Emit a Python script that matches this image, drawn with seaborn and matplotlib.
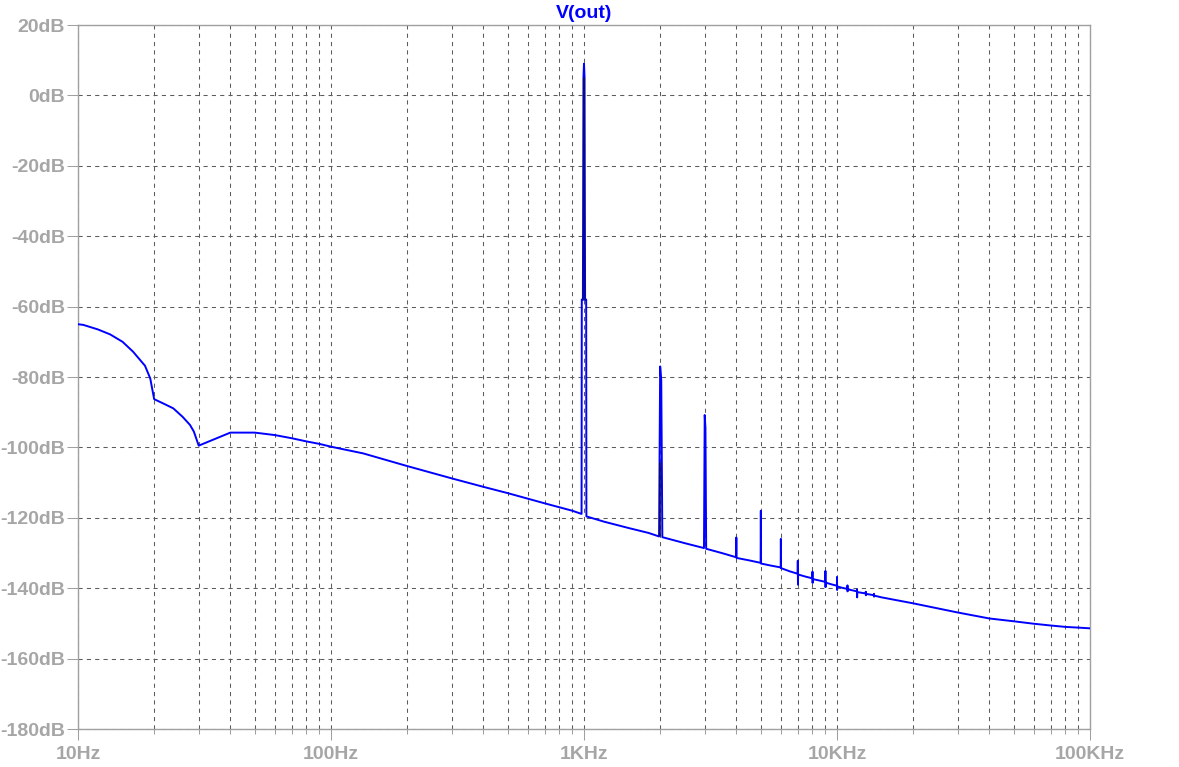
import matplotlib
matplotlib.use("Agg")
import matplotlib.pyplot as plt
import numpy as np
import pandas as pd
import seaborn as sns
from matplotlib.ticker import FixedLocator, FixedFormatter, LogLocator, NullFormatter

# ---------------- data ----------------
freq = [10, 10.5, 12, 13.4, 15, 16.5, 18.4, 19.3, 20, 21.7, 23.8, 25.9, 27.7, 28.7, 30,
        40, 50, 60, 70, 80, 90, 100, 134, 200, 300, 400, 500, 700, 900, 960,
        978, 980, 990, 995, 1000, 1005, 1010, 1020, 1022, 1200, 1500, 1800,
        1980, 2000, 2020, 2040, 2500,
        2980, 3000, 3020, 3040, 3500,
        3990, 4000, 4010, 4500,
        4990, 5000, 5010, 5500,
        5990, 6000, 6010, 6500,
        6990, 7000, 7010, 7020, 7500,
        7990, 8000, 8010, 8020, 8500,
        8990, 9000, 9010, 9020, 9500,
        9990, 10000, 10010, 10020, 10500,
        10990, 11000, 11010, 11020,
        11990, 12000, 12010, 12020,
        12990, 13000, 13010, 13020,
        13990, 14000, 14010, 14020,
        15000, 20000, 30000, 40000, 50000, 60000, 70000, 80000, 90000, 100000]
db = [-65.0, -65.2, -66.5, -67.9, -70.0, -72.8, -76.8, -80.4, -86.3, -87.5, -88.9, -91.3, -93.6, -95.5, -99.5,
      -95.8, -95.8, -96.5, -97.4, -98.3, -99.0, -99.8, -101.7, -105.3, -108.8, -111.2, -113.0, -115.9, -118.0, -118.7,
      -118.9, -58.0, -58.0, 5.0, 9.0, 5.0, -58.0, -58.0, -119.6, -121.1, -122.9, -124.3,
      -125.3, -77.0, -81.0, -125.5, -127.2,
      -128.6, -90.8, -94.5, -128.8, -130.0,
      -131.2, -125.6, -131.4, -132.1,
      -132.8, -118.0, -133.0, -133.6,
      -134.1, -126.0, -134.3, -135.2,
      -135.9, -132.2, -139.0, -136.1, -136.7,
      -137.2, -135.3, -138.5, -137.4, -137.8,
      -138.2, -135.1, -139.7, -138.4, -138.9,
      -139.3, -136.8, -140.5, -139.5, -139.9,
      -140.2, -139.2, -140.9, -140.3,
      -140.9, -140.3, -142.6, -141.1,
      -141.5, -141.0, -142.0, -141.6,
      -142.0, -141.6, -142.4, -142.1,
      -142.6, -144.3, -146.9, -148.6, -149.4, -150.1, -150.6, -151.0, -151.2, -151.4]

# dark overlay segments seen inside the 1 kHz and 2 kHz spikes
dark_freq = [1000, 2000]
dark_low = [-58.0, -125.3]
dark_high = [5.0, -104.5]

xtick_vals = [10, 100, 1000, 10000, 100000]
xtick_labels = ["10Hz", "100Hz", "1KHz", "10KHz", "100KHz"]
ytick_vals = [20, 0, -20, -40, -60, -80, -100, -120, -140, -160, -180]
ytick_labels = ["20dB", "0dB", "-20dB", "-40dB", "-60dB", "-80dB", "-100dB",
                "-120dB", "-140dB", "-160dB", "-180dB"]

# ---------------- styling ----------------
sns.set_style("white")
plt.rcParams["font.family"] = ["Liberation Sans", "DejaVu Sans"]

W, H = 1179, 767
fig = plt.figure(figsize=(W / 100, H / 100), dpi=100)
ax = fig.add_axes([78 / W, 1 - 729 / H, (1090 - 78) / W, (729 - 25) / H])
ax.set_xscale("log")

df = pd.DataFrame({"freq": freq, "db": db})
sns.lineplot(data=df, x="freq", y="db", sort=False, estimator=None,
             color="#0000ff", lw=1.4, ax=ax, zorder=3)
for f, lo, hi in zip(dark_freq, dark_low, dark_high):
    sns.lineplot(x=[f, f], y=[lo, hi], sort=False, estimator=None,
                 color="#101040", lw=1.2, ax=ax, zorder=4)

ax.set_xlim(10, 100000)
ax.set_ylim(-180, 20)

ax.xaxis.set_major_locator(FixedLocator(xtick_vals))
ax.xaxis.set_major_formatter(FixedFormatter(xtick_labels))
ax.xaxis.set_minor_locator(LogLocator(base=10, subs=range(2, 10), numticks=50))
ax.xaxis.set_minor_formatter(NullFormatter())
ax.yaxis.set_major_locator(FixedLocator(ytick_vals))
ax.yaxis.set_major_formatter(FixedFormatter(ytick_labels))

grid_kw = dict(color="#5c5c5c", lw=0.75, linestyle=(0, (4.0, 4.0)))
ax.grid(True, which="both", axis="x", **grid_kw)
ax.grid(True, which="major", axis="y", **grid_kw)
ax.set_axisbelow(True)

for s in ax.spines.values():
    s.set_color("#a0a0a0")
    s.set_linewidth(1.0)
    s.set_visible(True)

lab_color = "#a6a6a6"
ax.tick_params(axis="x", which="major", direction="out", length=8, width=0.75,
               color="#a0a0a0", pad=4, labelsize=14, labelcolor=lab_color,
               bottom=True, top=False)
ax.tick_params(axis="x", which="minor", direction="out", length=3.6, width=0.75,
               color="#a0a0a0", bottom=True, top=False)
ax.tick_params(axis="y", which="major", direction="out", length=8, width=0.75,
               color="#a0a0a0", pad=1.5, labelsize=14, labelcolor=lab_color,
               left=True, right=False)
for lab in ax.get_xticklabels() + ax.get_yticklabels():
    lab.set_fontweight("bold")

ax.set_xlabel("")
ax.set_ylabel("")
ax.set_title("V(out)", color="#0000ff", fontweight="bold", fontsize=14, pad=5)

fig.savefig("out.png", dpi=100, facecolor="white")
